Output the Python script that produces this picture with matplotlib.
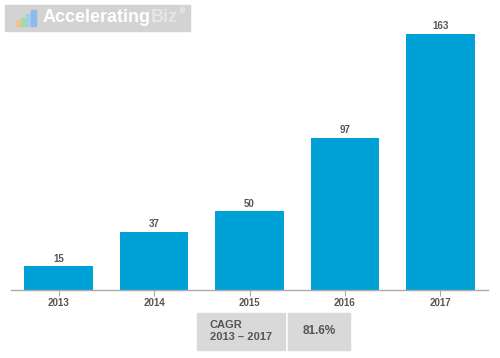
import matplotlib.pyplot as plt
from matplotlib.patches import Rectangle

plt.rcParams["font.family"] = ["Liberation Sans", "DejaVu Sans"]

years = ["2013", "2014", "2015", "2016", "2017"]
values = [15, 37, 50, 97, 163]
cagr_label = "CAGR\n2013 – 2017"
cagr_value = "81.6%"

BAR_COLOR = "#00a1d6"
TEXT_COLOR = "#555555"

fig = plt.figure(figsize=(5.0, 3.58), dpi=100)
ax = fig.add_axes([11 / 500, 68 / 358, 477 / 500, 270 / 358])

x = range(len(years))
bars = ax.bar(x, values, width=0.72, color=BAR_COLOR, zorder=2)
for rect, v in zip(bars, values):
    ax.annotate(str(v), (rect.get_x() + rect.get_width() / 2, v), xytext=(0, 2),
                textcoords="offset points", ha="center", va="bottom",
                fontsize=7, fontweight="bold", color=TEXT_COLOR)

ax.set_xlim(-0.5, 4.5)
ax.set_ylim(0, 163 * 270 / 256)
ax.set_xticks(list(x))
ax.set_xticklabels(years, fontsize=7, fontweight="bold", color=TEXT_COLOR)
ax.tick_params(axis="x", length=4, color="#aaaaaa", pad=2)
ax.set_yticks([])
for side in ("top", "right", "left"):
    ax.spines[side].set_visible(False)
ax.spines["bottom"].set_color("#aaaaaa")
ax.spines["bottom"].set_linewidth(1.0)

# logo box
fig.patches.append(Rectangle((5 / 500, 1 - 31 / 358), 185 / 500, 26 / 358,
                             transform=fig.transFigure, color="#d3d3d3", zorder=0))
icon = [(16, 2), (21, 5), (26, 9), (31, 13)]
for (px, h), c in zip(icon, ["#f2c48a", "#a9d8a0", "#9fd0ea", "#8fb9e6"]):
    fig.patches.append(Rectangle((px / 500, 1 - 26 / 358), 4.5 / 500, (h + 3) / 358,
                                 transform=fig.transFigure, color=c, zorder=1))
logo = fig.text(43 / 500, 1 - 18 / 358, "Accelerating", fontsize=13, fontweight="bold",
                color="white", va="center", ha="left")
fig.canvas.draw()
bb = logo.get_window_extent()
biz = fig.text(bb.x1 / 500, 1 - 18 / 358, "Biz", fontsize=13, fontweight="bold",
               color="#e6e6e6", va="center", ha="left")
fig.canvas.draw()
bb2 = biz.get_window_extent()
fig.text((bb2.x1 + 2) / 500, 1 - 12 / 358, "®", fontsize=5, color="white",
         va="center", ha="left")

# CAGR boxes
fig.patches.append(Rectangle((197 / 500, 1 - 350 / 358), 88 / 500, 37 / 358,
                             transform=fig.transFigure, color="#d9d9d9", zorder=0))
fig.patches.append(Rectangle((288 / 500, 1 - 350 / 358), 62 / 500, 37 / 358,
                             transform=fig.transFigure, color="#d9d9d9", zorder=0))
fig.text(210 / 500, 1 - 331 / 358, cagr_label, fontsize=8, fontweight="bold",
         color=TEXT_COLOR, va="center", ha="left", linespacing=1.15)
fig.text(319 / 500, 1 - 331 / 358, cagr_value, fontsize=8.5, fontweight="bold",
         color=TEXT_COLOR, va="center", ha="center")

fig.savefig("out.png", dpi=100)
